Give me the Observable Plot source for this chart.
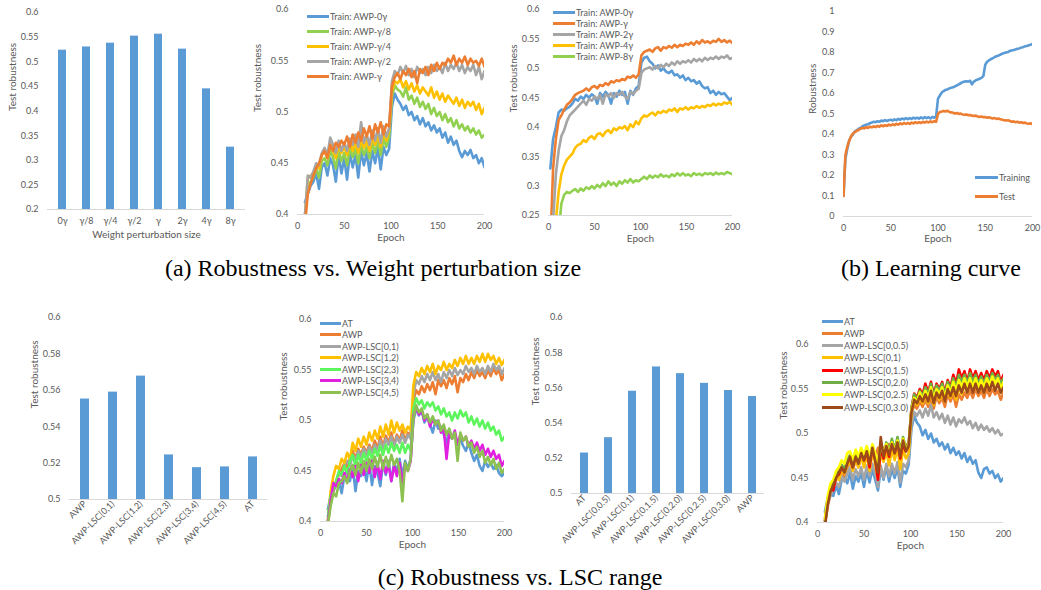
<!DOCTYPE html>
<html><head><meta charset="utf-8">
<script src="https://cdn.jsdelivr.net/npm/d3@7"></script>
<script src="https://cdn.jsdelivr.net/npm/@observablehq/plot@0.6"></script>
<style>
body{margin:0;background:#fff;}
#fig{position:relative;width:1041px;height:590px;overflow:hidden;background:#fff;font-family:Lato,"Noto Sans",sans-serif;}
#fig svg{position:absolute;}
.cap{position:absolute;font-family:"Liberation Serif","Times New Roman",serif;font-size:24px;color:#000;white-space:nowrap;transform:translate(-50%,-50%);line-height:1;}
.leg{position:absolute;display:flex;align-items:center;height:12px;font-size:9px;color:#595959;white-space:nowrap;}
.leg span{display:inline-block;height:3px;margin-right:1px;}
</style></head>
<body><div id="fig"></div>
<script>
// ---------- DATA ----------
// (a) bar chart: robustness vs weight perturbation size
const sizeCats = ["0γ","γ/8","γ/4","γ/2","γ","2γ","4γ","8γ"];
const sizeVals = [0.5235,0.530,0.5377,0.552,0.556,0.5256,0.445,0.3266];
const sizeTicks = [0.2,0.25,0.3,0.35,0.4,0.45,0.5,0.55,0.6];

// line-chart epochs
const epochsA = d3.range(8, 201, 3);   // panels a2, c2, c4
const epochsB = d3.range(2, 201, 3);   // panel a3
const epochsC = d3.range(0, 201, 2);   // panel b
const epochTicks = [0,50,100,150,200];

// (a2) test robustness, values x1000
const a2Names = ["Train: AWP-0γ","Train: AWP-γ/8","Train: AWP-γ/4","Train: AWP-γ/2","Train: AWP-γ"];
const a2_0 = [412,420,428,432,440,425,446,450,438,455,448,432,458,440,455,434,460,446,458,436,462,448,460,442,462,450,465,444,466,458,464,
505,518,512,508,502,506,497,500,492,496,488,494,486,490,482,487,480,484,475,480,470,476,468,472,462,456,462,458,463,455,458,450,455,446];
const a2_8 = [400,425,432,436,445,436,452,455,448,462,456,445,462,452,460,448,465,456,464,450,468,458,466,455,470,460,472,458,474,466,475,
515,526,522,520,515,524,512,516,508,514,505,510,503,508,498,504,496,500,492,498,490,494,486,492,484,488,482,486,480,484,478,482,475,478];
const a2_4 = [395,435,438,440,448,445,458,462,455,468,462,455,468,460,466,458,470,462,470,460,474,465,472,462,476,468,478,466,480,472,482,
520,530,528,532,524,530,522,528,520,526,518,524,520,516,524,514,520,512,518,510,516,512,508,514,506,512,504,510,506,510,502,508,498,504];
const a2_2 = [400,438,436,442,450,448,460,465,458,475,468,460,472,462,470,462,474,468,478,466,490,470,478,468,482,472,484,470,486,476,484,
530,540,536,544,538,545,536,542,534,544,538,542,536,544,538,546,540,544,538,548,540,546,542,548,540,546,538,544,540,546,536,544,532,540];
const a2_1 = [390,420,430,438,445,450,458,462,455,468,462,470,466,472,468,476,466,478,470,480,472,484,476,486,474,488,480,490,478,488,486,
525,534,538,532,540,536,542,534,540,528,542,538,544,536,546,540,548,542,548,546,552,548,555,546,552,548,554,546,552,548,550,545,552,544];

// (a3) test robustness, values x1000
const a3Names = ["Train: AWP-0γ","Train: AWP-γ","Train: AWP-2γ","Train: AWP-4γ","Train: AWP-8γ"];
const a3_0 = [330,380,400,425,430,428,432,435,440,448,445,452,448,455,450,456,452,440,458,452,460,455,440,458,452,462,455,460,440,462,455,466,470,
510,518,520,512,508,500,505,496,500,494,492,496,488,490,484,488,480,484,478,480,474,478,470,466,468,458,462,455,460,456,458,452,446,450];
const a3_1 = [200,330,380,412,420,430,438,442,448,455,458,460,462,466,462,468,470,466,472,470,475,472,478,476,480,478,482,480,486,484,488,484,490,
522,528,530,532,528,534,536,530,536,534,538,535,540,536,540,538,542,540,544,540,546,542,548,544,546,543,547,545,550,545,548,544,547,543];
const a3_2 = [150,240,320,360,385,395,410,420,425,430,435,440,445,438,448,445,452,448,455,440,456,452,458,450,458,455,460,452,448,460,456,462,465,
492,498,500,502,498,504,500,506,502,508,504,510,506,512,508,512,510,514,510,516,512,516,512,518,514,518,516,520,516,520,518,522,516,518];
const a3_4g = [100,180,240,290,320,335,345,350,355,365,370,372,378,375,382,385,380,388,390,385,392,395,390,398,395,400,398,402,395,405,400,410,405,
415,420,418,422,425,420,426,424,428,425,430,428,432,426,432,430,434,430,434,432,436,433,436,434,438,436,440,437,440,438,442,440,443,438];
const a3_8g = [50,100,150,220,270,285,290,288,292,295,290,296,292,298,295,300,296,302,298,305,300,308,302,306,300,308,304,310,306,312,306,310,308,
312,316,312,318,314,318,315,320,316,318,315,320,317,322,318,322,318,320,317,322,319,321,318,322,320,322,319,323,320,322,320,324,322,320];

// (b) learning curve, values x1000
const bNames = ["Training","Test"];
const bTrain = [100,280,330,370,390,400,415,420,428,432,440,445,448,450,455,458,462,460,465,462,468,465,470,466,470,472,468,474,470,476,472,478,474,480,475,480,476,482,478,482,477,484,478,485,480,484,478,486,482,488,
575,590,605,612,618,620,625,628,630,635,640,645,650,655,658,660,658,662,645,658,665,668,672,676,685,740,755,762,768,772,778,782,785,790,794,798,800,802,808,810,812,815,818,820,824,826,830,832,835,838,842];
const bTest = [100,300,340,370,390,405,412,418,422,428,432,430,436,432,438,435,440,436,442,438,445,440,446,442,448,444,450,446,452,448,454,450,456,452,456,452,458,454,460,455,460,456,462,458,463,459,464,460,465,462,
500,510,512,515,512,516,510,508,506,502,505,500,502,498,496,498,494,495,492,490,492,488,486,488,484,485,482,484,480,478,480,476,478,474,472,470,468,470,466,462,464,460,462,458,460,456,458,454,452,455,450];

// (c1) bar chart LSC ranges
const lscCats = ["AWP","AWP-LSC[0,1)","AWP-LSC[1,2)","AWP-LSC[2,3)","AWP-LSC[3,4)","AWP-LSC[4,5)","AT"];
const lscVals = [0.5552,0.559,0.5678,0.5245,0.5175,0.5179,0.5234];
const lscTicks = [0.5,0.52,0.54,0.56,0.58,0.6];

// (c2) test robustness, values x1000
const c2Names = ["AT","AWP","AWP-LSC[0,1)","AWP-LSC[1,2)","AWP-LSC[2,3)","AWP-LSC[3,4)","AWP-LSC[4,5)"];
const c2_at = [412,425,430,436,440,428,446,450,440,455,430,450,445,455,440,458,436,455,448,435,458,446,460,440,458,450,462,445,460,452,462,
500,512,505,510,498,504,496,488,500,492,494,486,478,490,482,486,476,482,475,470,478,468,460,466,455,450,460,454,458,452,456,448,445,448];
const c2_awp = [395,420,430,440,446,452,458,454,462,470,462,472,466,474,468,476,470,480,472,484,474,485,478,488,476,486,480,490,480,488,484,
520,530,526,534,528,536,530,538,526,540,534,540,532,542,536,544,528,542,538,546,540,548,542,550,544,548,542,550,544,552,546,550,540,546];
const c2_01 = [400,425,435,440,448,445,456,460,455,466,460,470,464,472,466,474,468,476,470,480,472,482,476,484,474,484,478,486,478,486,482,
525,540,536,544,538,546,540,548,540,546,538,548,542,550,544,552,545,550,546,554,548,552,546,554,548,552,546,554,548,556,550,554,546,552];
const c2_12 = [400,430,445,455,452,462,458,468,462,478,470,482,474,484,476,488,480,490,482,494,484,496,486,500,488,498,490,496,488,494,490,
535,548,544,552,546,554,548,556,546,554,550,558,550,556,552,560,554,562,556,564,556,562,556,564,558,566,558,566,560,564,556,562,555,560];
const c2_23 = [405,425,432,440,450,446,455,448,460,466,455,466,458,468,460,470,462,472,465,475,466,476,468,478,470,476,468,478,468,476,470,
512,522,516,520,512,518,514,518,510,514,506,512,504,508,500,508,502,510,504,508,498,504,496,502,494,500,492,498,490,494,486,490,480,484];
const c2_34 = [400,420,438,435,442,438,448,440,452,444,455,440,456,446,458,448,460,444,458,442,460,448,456,440,455,445,458,438,456,450,460,
505,512,506,510,500,506,494,502,496,500,488,492,462,488,482,490,476,486,480,484,474,480,472,478,470,476,466,472,464,470,462,466,455,460];
const c2_45 = [398,415,428,425,438,440,445,438,450,456,446,458,448,460,450,462,452,464,454,466,452,464,454,466,456,462,450,420,458,450,462,
502,515,508,512,502,506,498,504,496,500,490,496,486,492,482,488,460,488,480,484,474,478,468,474,464,470,458,464,456,462,452,458,448,452];

// (c3) bar chart LSC upper bound
const lsc2Cats = ["AT","AWP-LSC[0,0.5)","AWP-LSC[0,1)","AWP-LSC[0,1.5)","AWP-LSC[0,2.0)","AWP-LSC[0,2.5)","AWP-LSC[0,3.0)","AWP"];
const lsc2Vals = [0.523,0.5317,0.5581,0.5719,0.5681,0.5626,0.5585,0.5551];

// (c4) test robustness, values x1000
const c4Names = ["AT","AWP","AWP-LSC[0,0.5)","AWP-LSC[0,1)","AWP-LSC[0,1.5)","AWP-LSC[0,2.0)","AWP-LSC[0,2.5)","AWP-LSC[0,3.0)"];
const c4_at = [412,428,432,430,442,432,448,452,444,456,438,452,446,456,440,458,445,460,448,436,460,448,462,446,460,450,462,440,458,455,465,
505,520,512,508,498,504,494,500,490,494,486,490,482,488,478,484,476,480,472,478,468,474,466,470,456,450,460,462,455,458,450,454,446,450];
const c4_awp = [398,418,432,438,448,452,456,452,462,468,460,470,462,474,466,476,468,478,470,484,474,484,476,488,476,486,478,488,480,488,484,
522,532,528,536,530,538,530,540,528,542,534,540,530,544,536,544,530,544,538,546,540,548,540,550,542,548,540,550,542,550,544,548,538,546];
const c4_05 = [405,422,430,438,445,440,452,446,455,462,448,460,452,462,448,464,452,466,455,440,464,450,466,452,466,455,468,445,466,462,470,
510,524,520,526,518,528,520,532,518,524,516,522,512,520,510,518,508,516,512,518,510,514,506,512,504,510,504,508,502,506,500,504,498,500];
const c4_10 = [400,424,436,440,450,448,458,455,464,468,458,472,462,474,462,476,458,478,466,450,478,468,480,464,482,470,484,460,482,472,478,
524,536,532,540,534,542,534,546,532,546,538,544,536,548,540,550,538,552,544,554,546,556,548,556,546,554,546,556,548,558,550,556,546,552];
const c4_15 = [402,426,438,436,452,454,462,458,468,472,462,476,468,478,470,480,462,484,472,448,484,472,486,474,490,478,490,472,488,480,486,
528,545,540,550,544,556,546,558,544,556,550,558,546,560,552,566,556,572,562,570,558,572,562,570,560,568,560,570,562,572,564,570,558,566];
const c4_20 = [400,425,440,444,455,458,465,460,470,476,466,478,470,480,474,482,470,486,476,462,488,476,490,480,494,482,496,480,496,484,488,
528,544,538,548,542,552,544,556,542,554,548,556,544,558,550,562,552,566,558,566,556,568,558,566,556,564,556,566,558,568,560,566,556,562];
const c4_25 = [404,430,444,448,458,462,470,466,478,480,470,482,474,484,476,486,474,488,478,466,490,478,488,478,490,480,492,476,494,482,486,
526,540,536,546,538,548,540,552,538,550,544,552,540,554,546,558,548,560,552,562,552,562,552,562,552,560,552,562,554,564,556,562,550,558];
const c4_30 = [395,420,435,442,450,456,462,456,466,474,462,474,466,478,470,480,466,484,470,456,496,474,486,476,488,478,490,474,492,480,486,
524,538,534,542,536,544,536,548,534,546,540,548,536,550,542,552,542,554,546,556,546,556,546,556,546,554,546,556,548,558,548,556,546,552];

// ---------- STYLES ----------
const BLUE="#5B9BD5", ORANGE="#ED7D31", GRAY="#A5A5A5", GOLD="#FFC000", LGREEN="#92D050";
const a2Colors=[BLUE,LGREEN,GOLD,GRAY,ORANGE];
const a3Colors=[BLUE,ORANGE,GRAY,GOLD,LGREEN];
const bColors=[BLUE,ORANGE];
const c2Colors=[BLUE,ORANGE,GRAY,GOLD,"#5CF55C","#E01FE0","#8CC152"];
const c4Colors=[BLUE,ORANGE,GRAY,GOLD,"#FF0000","#70AD47","#FFFF00","#9C4A1A"];
const TXT="#595959", AXIS="#D9D9D9";

// ---------- BUILD ----------
const fig = document.getElementById("fig");
const fmt = d => String(+d.toFixed(3));
const baseStyle = {fontFamily:"Lato, 'Noto Sans', sans-serif", fontSize:"9px", color:TXT, background:"transparent", overflow:"visible"};

function place(svg, left, top){ svg.style.left=left+"px"; svg.style.top=top+"px"; fig.appendChild(svg); }

function linePanel(o){
  const marks = [Plot.ruleY([o.yDomain[0]], {stroke:AXIS, strokeWidth:1})];
  o.series.forEach((s,i)=>{
    if (s.length !== o.epochs.length) console.error("length mismatch", o.names[i], s.length, o.epochs.length);
    const rows = o.epochs.map((e,j)=>({epoch:e, value:s[j]/1000}));
    marks.push(Plot.line(rows, {x:"epoch", y:"value", stroke:o.colors[i], strokeWidth:2.6, clip:true}));
  });
  marks.push(
    Plot.axisX({ticks:epochTicks, tickSize:0, tickPadding:8, label:null, tickFormat:d=>String(d)}),
    Plot.axisY({ticks:o.yTicks, tickSize:0, tickPadding:9, label:null, tickFormat:fmt}),
    Plot.text([o.yLabel], {text:d=>d, frameAnchor:"left", dx:o.ydx, dy:o.ydy||0, rotate:-90, fontSize:10, fill:TXT}),
    Plot.text(["Epoch"], {text:d=>d, frameAnchor:"bottom", dy:o.xdy, fontSize:10, fill:TXT})
  );
  const svg = Plot.plot({width:o.w, height:o.h, marginTop:o.mt, marginRight:o.mr, marginBottom:o.mb, marginLeft:o.ml,
    x:{domain:[0,200]}, y:{domain:o.yDomain}, style:baseStyle, marks});
  place(svg, o.left, o.top);
}

function barPanel(o){
  const rows = o.cats.map((c,i)=>({cat:c, value:o.vals[i]}));
  const marks = [
    Plot.barY(rows, {x:"cat", y:"value", fill:BLUE, clip:true}),
    Plot.ruleY([o.yDomain[0]], {stroke:AXIS, strokeWidth:1}),
    Plot.axisX(o.rotate ? {tickRotate:-45, tickSize:0, tickPadding:3, label:null} : {tickSize:0, tickPadding:8, label:null}),
    Plot.axisY({ticks:o.yTicks, tickSize:0, tickPadding:9, label:null, tickFormat:fmt}),
    Plot.text([o.yLabel], {text:d=>d, frameAnchor:"left", dx:o.ydx, rotate:-90, fontSize:10, fill:TXT})
  ];
  if (o.xLabel) marks.push(Plot.text([o.xLabel], {text:d=>d, frameAnchor:"bottom", dy:o.xdy, fontSize:10, fill:TXT}));
  const svg = Plot.plot({width:o.w, height:o.h, marginTop:o.mt, marginRight:o.mr, marginBottom:o.mb, marginLeft:o.ml,
    x:{type:"band", domain:o.cats, paddingInner:0.68, paddingOuter:0.34}, y:{domain:o.yDomain}, style:baseStyle, marks});
  place(svg, o.left, o.top);
}

function legend(x, y0, dy, names, colors, lw){
  names.forEach((n,i)=>{
    const d=document.createElement("div"); d.className="leg";
    d.style.left=x+"px"; d.style.top=(y0+i*dy-6)+"px";
    const sp=document.createElement("span"); sp.style.width=lw+"px"; sp.style.background=colors[i];
    d.appendChild(sp); d.appendChild(document.createTextNode(n));
    fig.appendChild(d);
  });
}
function caption(text, cx, cy){
  const d=document.createElement("div"); d.className="cap"; d.textContent=text;
  d.style.left=cx+"px"; d.style.top=cy+"px"; fig.appendChild(d);
}

// (a1)
barPanel({left:0, top:0, w:250, h:250, mt:12, mr:5, mb:41, ml:47, cats:sizeCats, vals:sizeVals, yDomain:[0.2,0.6], yTicks:sizeTicks,
  yLabel:"Test robustness", ydx:-35, xLabel:"Weight perturbation size", xdy:28});
// (a2)
linePanel({left:250, top:0, w:250, h:250, mt:9, mr:16, mb:36, ml:47, epochs:epochsA, series:[a2_0,a2_8,a2_4,a2_2,a2_1], names:a2Names,
  colors:a2Colors, yDomain:[0.4,0.6], yTicks:[0.4,0.45,0.5,0.55,0.6], yLabel:"Test robustness", ydx:-40, xdy:26});
legend(307, 16, 15, a2Names, a2Colors, 22);
// (a3)
linePanel({left:500, top:0, w:250, h:250, mt:9, mr:18, mb:35, ml:48, epochs:epochsB, series:[a3_0,a3_1,a3_2,a3_4g,a3_8g], names:a3Names,
  colors:a3Colors, yDomain:[0.25,0.6], yTicks:[0.25,0.3,0.35,0.4,0.45,0.5,0.55,0.6], yLabel:"Test robustness", ydx:-35, xdy:26});
legend(553, 12, 11.1, a3Names, a3Colors, 22);
// (b)
linePanel({left:770, top:0, w:271, h:250, mt:11, mr:9, mb:34, ml:73, epochs:epochsC, series:[bTrain,bTest], names:bNames,
  colors:bColors, yDomain:[0,1], yTicks:[0,0.1,0.2,0.3,0.4,0.5,0.6,0.7,0.8,0.9,1], yLabel:"Robustness", ydx:-31, xdy:25});
legend(975, 177, 19, bNames, bColors, 23);
// (c1)
barPanel({left:0, top:300, w:270, h:260, mt:17, mr:3, mb:61, ml:69, cats:lscCats, vals:lscVals, yDomain:[0.5,0.6], yTicks:lscTicks,
  yLabel:"Test robustness", ydx:-35, rotate:true});
// (c2)
linePanel({left:270, top:300, w:250, h:260, mt:19, mr:16, mb:39, ml:50, epochs:epochsA, series:[c2_at,c2_awp,c2_01,c2_12,c2_23,c2_34,c2_45], names:c2Names,
  colors:c2Colors, yDomain:[0.4,0.6], yTicks:[0.4,0.45,0.5,0.55,0.6], yLabel:"Test robustness", ydx:-37, xdy:26});
legend(320, 323, 11.5, c2Names, c2Colors, 21);
// (c3)
barPanel({left:520, top:300, w:250, h:260, mt:17, mr:6, mb:67, ml:51, cats:lsc2Cats, vals:lsc2Vals, yDomain:[0.5,0.6], yTicks:lscTicks,
  yLabel:"Test robustness", ydx:-36, rotate:true});
// (c4)
linePanel({left:770, top:300, w:271, h:260, mt:44, mr:38, mb:38, ml:47, epochs:epochsA, series:[c4_at,c4_awp,c4_05,c4_10,c4_15,c4_20,c4_25,c4_30], names:c4Names,
  colors:c4Colors, yDomain:[0.4,0.6], yTicks:[0.4,0.45,0.5,0.55,0.6], yLabel:"Test robustness", ydx:-34, ydy:-14, xdy:26});
legend(822, 321, 12.3, c4Names, c4Colors, 21);

caption("(a) Robustness vs. Weight perturbation size", 373, 268);
caption("(b) Learning curve", 931, 268);
caption("(c) Robustness vs. LSC range", 520, 577);
</script>
</body></html>
